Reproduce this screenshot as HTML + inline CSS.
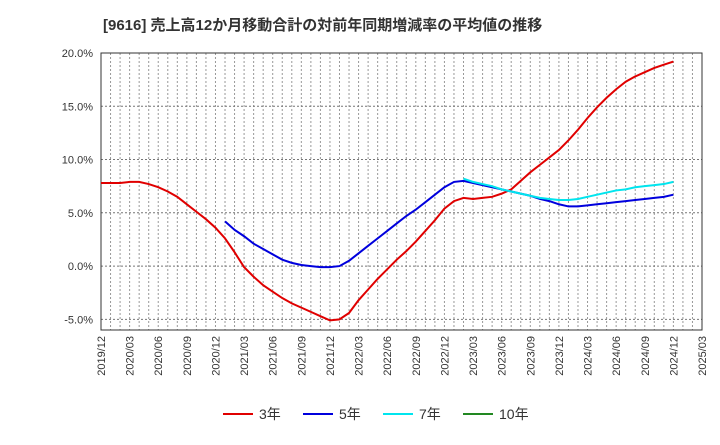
<!DOCTYPE html>
<html><head><meta charset="utf-8"><style>
body{margin:0;background:#fff;width:720px;height:440px;overflow:hidden;font-family:"Liberation Sans","Noto Sans CJK JP",sans-serif;}
</style></head><body>
<svg id="c" width="720" height="440" xmlns="http://www.w3.org/2000/svg">
<text x="103" y="30" font-size="15" font-weight="bold" fill="#333">[9616]  売上高12か月移動合計の対前年同期増減率の平均値の推移</text>
</svg>
<script>
const yTicks=[-5,0,5,10,15,20];
const xLabels=["2019/12","2020/03","2020/06","2020/09","2020/12","2021/03","2021/06","2021/09","2021/12","2022/03","2022/06","2022/09","2022/12","2023/03","2023/06","2023/09","2023/12","2024/03","2024/06","2024/09","2024/12","2025/03"];
// monthly values starting 2019/12
const s3=[7.8,7.8,7.8,7.9,7.9,7.7,7.4,7.0,6.5,5.8,5.1,4.4,3.6,2.6,1.3,-0.1,-1.0,-1.8,-2.4,-3.0,-3.5,-3.9,-4.3,-4.7,-5.1,-5.0,-4.4,-3.2,-2.2,-1.2,-0.3,0.6,1.4,2.3,3.3,4.3,5.4,6.1,6.4,6.3,6.4,6.5,6.8,7.2,8.0,8.8,9.5,10.2,10.9,11.8,12.8,13.9,14.9,15.8,16.6,17.3,17.8,18.2,18.6,18.9,19.2];
const s5Start=13; // 2021/01
const s5=[4.2,3.4,2.8,2.1,1.6,1.1,0.6,0.3,0.1,0.0,-0.1,-0.1,0.0,0.5,1.2,1.9,2.6,3.3,4.0,4.7,5.3,6.0,6.7,7.4,7.9,8.0,7.8,7.6,7.4,7.2,7.0,6.8,6.6,6.3,6.1,5.8,5.6,5.6,5.7,5.8,5.9,6.0,6.1,6.2,6.3,6.4,6.5,6.7];
const s7Start=38; // 2023/02
const s7=[8.2,7.9,7.7,7.5,7.2,7.0,6.8,6.6,6.4,6.3,6.2,6.2,6.3,6.5,6.7,6.9,7.1,7.2,7.4,7.5,7.6,7.7,7.9];
const seriesNames=["3年","5年","7年","10年"];
const seriesColors=["#e00000","#0000dd","#00e5ee","#228822"];
const svg=document.getElementById('c');const NS="http://www.w3.org/2000/svg";
const L=101,R=702,T=53,B=330,yMin=-6,yMax=20,months=63;
const xs=m=>L+(R-L)*m/months;
const ys=v=>T+(yMax-v)*(B-T)/(yMax-yMin);
function mk(t,a,p){const e=document.createElementNS(NS,t);for(const k in a)e.setAttribute(k,a[k]);(p||svg).appendChild(e);return e;}
for(let m=1;m<months;m++){const l=mk('line',{x1:xs(m),x2:xs(m),y1:T,y2:B,stroke:'#999','stroke-dasharray':'2,2','stroke-width':1});

}
yTicks.forEach(v=>{const l=mk('line',{x1:L,x2:R,y1:ys(v),y2:ys(v),stroke:'#777','stroke-dasharray':'2,2','stroke-width':1});


const t=mk('text',{x:L-8,y:ys(v)+4,'text-anchor':'end','font-size':11,fill:'#333'});t.textContent=v.toFixed(1)+'%';

});
xLabels.forEach((s,i)=>{const x=xs(i*3);const t=mk('text',{x:x+4,y:B+6,'text-anchor':'end','font-size':11,fill:'#333',transform:`rotate(-90 ${x+4} ${B+6})`});t.textContent=s;

});
const fr=mk('rect',{x:L,y:T,width:R-L,height:B-T,fill:'none',stroke:'#333','stroke-width':1});


function line(arr,start,col,name){const p=mk('polyline',{points:arr.map((v,i)=>xs(start+i)+','+ys(v)).join(' '),fill:'none',stroke:col,'stroke-width':2});

}
line(s3,0,seriesColors[0],'series-3y-line');
line(s5,s5Start,seriesColors[1],'series-5y-line');
line(s7,s7Start,seriesColors[2],'series-7y-line');
const lx=[223,303,383,463];
seriesNames.forEach((n,i)=>{const g=mk('g',{});


mk('line',{x1:lx[i],x2:lx[i]+30,y1:414,y2:414,stroke:seriesColors[i],'stroke-width':2},g);
const t=mk('text',{x:lx[i]+36,y:419,'font-size':14,fill:'#333'},g);t.textContent=n;});
</script>
</body></html>
